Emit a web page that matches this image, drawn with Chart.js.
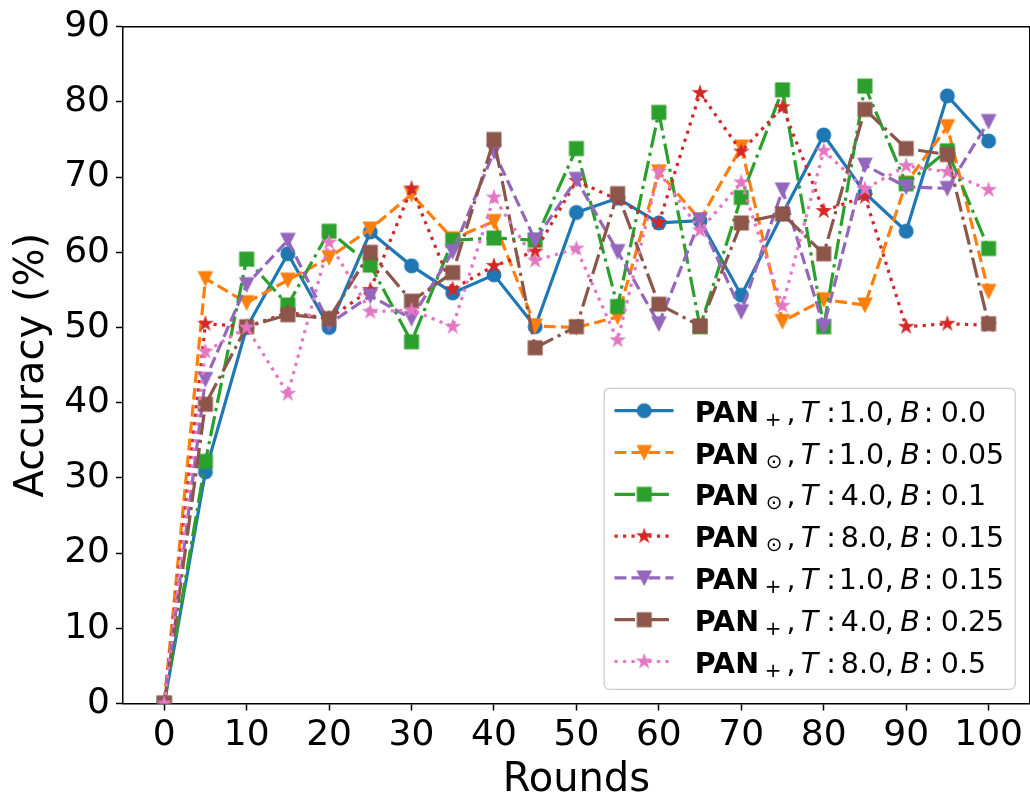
<!DOCTYPE html>
<html>
<head>
<meta charset="utf-8">
<script src="https://cdn.jsdelivr.net/npm/chart.js@4.4.1/dist/chart.umd.min.js"></script>
<style>
  html, body { margin: 0; padding: 0; overflow: hidden; background: #fff; }
</style>
</head>
<body>
<canvas id="accChart" width="1040" height="801"></canvas>
<script>
const rounds = [0, 5, 10, 15, 20, 25, 30, 35, 40, 45, 50, 55, 60, 65, 70, 75, 80, 85, 90, 95, 100];

const accPlusT1B0 = [0, 30.8, 50.0, 59.8, 50.0, 62.7, 58.2, 54.6, 57.0, 50.1, 65.3,
    67.2, 63.9, 64.2, 54.3, 65.1, 75.6, 67.9, 62.8, 80.8, 74.8];
const accDotT1B005 = [0, 56.5, 53.3, 56.3, 59.3, 63.1, 67.7, 61.8, 64.1, 50.2, 50.0,
    51.4, 70.7, 64.3, 74.0, 50.8, 53.7, 53.0, 69.2, 76.7, 54.8];
const accDotT4B01 = [0, 32.2, 59.1, 53.0, 62.8, 58.3, 48.1, 61.6, 61.9, 61.6, 73.8,
    52.8, 78.6, 50.1, 67.3, 81.6, 50.1, 82.1, 69.1, 73.5, 60.5];
const accDotT8B015 = [0, 50.5, 50.1, 52.0, 51.2, 55.0, 68.5, 55.1, 58.2, 60.1, 69.5,
    67.0, 63.9, 81.2, 73.4, 79.3, 65.5, 67.4, 50.1, 50.5, 50.3];
const accPlusT1B015 = [0, 43.1, 55.7, 61.6, 50.5, 54.2, 51.2, 60.1, 73.4, 61.6, 69.7,
    60.1, 50.5, 64.3, 52.1, 68.3, 50.1, 71.6, 68.7, 68.5, 77.4];
const accPlusT4B025 = [0, 39.8, 50.1, 51.7, 51.2, 60.0, 53.5, 57.3, 75.0, 47.3, 50.1,
    67.8, 53.1, 50.2, 63.9, 65.1, 59.8, 79.0, 73.8, 73.0, 50.5];
const accPlusT8B05 = [0, 46.8, 50.0, 41.2, 61.3, 52.1, 52.3, 50.1, 67.3, 58.9, 60.5,
    48.3, 70.7, 62.9, 69.3, 52.9, 73.5, 68.4, 71.5, 70.7, 68.3];

const xTicks = [0, 10, 20, 30, 40, 50, 60, 70, 80, 90, 100];
const yTicks = [0, 10, 20, 30, 40, 50, 60, 70, 80, 90];

// legend label parts: PAN_{sub}, T: t, B: b
const methodSubs = ['+', '\u2299', '\u2299', '\u2299', '+', '+', '+'];
const tempVals = ['1.0', '1.0', '4.0', '8.0', '1.0', '4.0', '8.0'];
const betaVals = ['0.0', '0.05', '0.1', '0.15', '0.15', '0.25', '0.5'];

const seriesList = [accPlusT1B0, accDotT1B005, accDotT4B01, accDotT8B015,
    accPlusT1B015, accPlusT4B025, accPlusT8B05];
const seriesColors = ['#1f77b4', '#ff7f0e', '#2ca02c', '#d62728', '#9467bd', '#8c564b', '#e377c2'];
const seriesMarkers = ['circle', 'triDown', 'square', 'star', 'triDown', 'square', 'star'];
const seriesLines = ['solid', 'dashed', 'dashdot', 'dotted', 'dashed', 'dashdot', 'dotted'];

const LINE_W = 3.2;
const MARKER = 13.8;
const FONT = '"DejaVu Sans"';

function dashFor(style, w) {
    if (style === 'dashed') return [3.7 * w, 1.6 * w];
    if (style === 'dashdot') return [6.4 * w, 1.6 * w, 1 * w, 1.6 * w];
    if (style === 'dotted') return [1 * w, 1.65 * w];
    return [];
}

// small offscreen canvases used as point images
function makeMarker(shape, color, size) {
    const c = document.createElement('canvas');
    const dim = 20;
    c.width = dim; c.height = dim;
    const g = c.getContext('2d');
    const m = dim / 2, h = size / 2;
    g.beginPath();
    if (shape === 'circle') {
        g.arc(m, m, h, 0, Math.PI * 2);
    } else if (shape === 'square') {
        g.rect(m - h, m - h, size, size);
    } else if (shape === 'triDown') {
        g.moveTo(m, m + h);
        g.lineTo(m - h, m - h);
        g.lineTo(m + h, m - h);
        g.closePath();
    } else if (shape === 'star') {
        for (let i = 0; i < 10; i++) {
            const r = i % 2 ? h * 0.381966 : h;
            const a = -Math.PI / 2 + i * Math.PI / 5;
            const px = m + r * Math.cos(a), py = m + r * Math.sin(a);
            if (i) g.lineTo(px, py); else g.moveTo(px, py);
        }
        g.closePath();
    }
    g.fillStyle = color;
    g.fill();
    g.lineWidth = 1.2;
    g.strokeStyle = color;
    g.stroke();
    return c;
}

function labelText(i) {
    return 'PAN' + methodSubs[i] + ', T: ' + tempVals[i] + ', B: ' + betaVals[i];
}

const datasets = seriesList.map((vals, i) => ({
    label: labelText(i),
    data: rounds.map((r, k) => ({ x: r, y: vals[k] })),
    borderColor: seriesColors[i],
    backgroundColor: seriesColors[i],
    borderWidth: LINE_W,
    borderDash: dashFor(seriesLines[i], LINE_W),
    pointStyle: makeMarker(seriesMarkers[i], seriesColors[i], MARKER),
    pointRadius: 7,
    pointHoverRadius: 7,
    fill: false,
    clip: 0,
    order: seriesList.length - i
}));

// top and right spines
const frameBorder = {
    id: 'frameBorder',
    afterDatasetsDraw(chart) {
        const { ctx, chartArea: a } = chart;
        ctx.save();
        ctx.strokeStyle = '#000';
        ctx.lineWidth = 1.5;
        ctx.beginPath();
        ctx.moveTo(a.left, a.top);
        ctx.lineTo(a.right, a.top);
        ctx.lineTo(a.right, a.bottom);
        ctx.stroke();
        ctx.restore();
    }
};

function drawLabel(ctx, x, y, i) {
    const main = '28.5px ' + FONT;
    const pieces = [
        { t: 'PAN', f: 'bold ' + main, dx: 0, dy: 0 },
        { t: methodSubs[i], f: '20px ' + FONT, dx: 70, dy: 4 },
        { t: ',', f: main, dx: 91.7, dy: 0 },
        { t: 'T', f: 'italic ' + main, dx: 105, dy: 0 },
        { t: ':', f: main, dx: 132.4, dy: 0 },
        { t: tempVals[i], f: main, dx: 145, dy: 0 },
        { t: ',', f: main, dx: 190, dy: 0 },
        { t: 'B', f: 'italic ' + main, dx: 203.4, dy: 0 },
        { t: ':', f: main, dx: 230, dy: 0 },
        { t: betaVals[i], f: main, dx: 245, dy: 0 }
    ];
    ctx.fillStyle = '#000';
    ctx.textAlign = 'left';
    ctx.textBaseline = 'alphabetic';
    pieces.forEach(p => {
        ctx.font = p.f;
        const m = ctx.measureText(p.t);
        ctx.fillText(p.t, x + p.dx + m.actualBoundingBoxLeft, y + p.dy);
    });
}

const legendBox = {
    id: 'legendBox',
    afterDraw(chart) {
        const { ctx, chartArea } = chart;
        const w = 411, h = 301;
        const x0 = chartArea.right - 14.6 - w;
        const y0 = chartArea.bottom - 14.2 - h;
        ctx.save();
        ctx.beginPath();
        ctx.roundRect(x0, y0, w, h, 5);
        ctx.fillStyle = 'rgba(255,255,255,0.8)';
        ctx.fill();
        ctx.lineWidth = 1.3;
        ctx.strokeStyle = '#cccccc';
        ctx.stroke();
        chart.data.datasets.forEach((ds, i) => {
            const cy = y0 + 22.4 + i * 41.8;
            ctx.beginPath();
            ctx.setLineDash(ds.borderDash);
            ctx.lineDashOffset = 0;
            ctx.strokeStyle = ds.borderColor;
            ctx.lineWidth = ds.borderWidth;
            ctx.moveTo(x0 + 10.3, cy);
            ctx.lineTo(x0 + 69.3, cy);
            ctx.stroke();
            ctx.setLineDash([]);
            const mk = ds.pointStyle;
            ctx.drawImage(mk, x0 + 40 - mk.width / 2, cy - mk.height / 2);
            drawLabel(ctx, x0 + 92.6, cy + 11, i);
        });
        ctx.restore();
    }
};

const axisGrid = {
    display: true,
    drawOnChartArea: false,
    drawTicks: true,
    tickLength: 7,
    tickWidth: 1.5,
    tickColor: '#000',
    color: '#000'
};
const axisBorder = { display: true, color: '#000', width: 1.5 };
const tickFont = { family: 'DejaVu Sans', size: 36, lineHeight: 1 };
const titleFont = { family: 'DejaVu Sans', size: 40, lineHeight: 1 };

new Chart(document.getElementById('accChart').getContext('2d'), {
    type: 'line',
    data: { datasets },
    options: {
        responsive: false,
        animation: false,
        layout: { padding: { top: 26.7, right: 9, bottom: 0, left: 0 } },
        plugins: {
            legend: { display: false },
            tooltip: { enabled: false }
        },
        scales: {
            x: {
                type: 'linear',
                min: -5,
                max: 105,
                afterBuildTicks: s => { s.ticks = xTicks.map(v => ({ value: v })); },
                afterFit: s => { s.height = 97.5; },
                grid: axisGrid,
                border: axisBorder,
                ticks: { color: '#000', font: tickFont, padding: 7, maxRotation: 0, autoSkip: false },
                title: { display: true, text: 'Rounds', color: '#000', font: titleFont, padding: { top: 0, bottom: 0 } }
            },
            y: {
                type: 'linear',
                min: 0,
                max: 90,
                afterBuildTicks: s => { s.ticks = yTicks.map(v => ({ value: v })); },
                afterFit: s => { s.width = 123; },
                grid: axisGrid,
                border: axisBorder,
                ticks: { color: '#000', font: tickFont, padding: 6, autoSkip: false },
                title: { display: true, text: 'Accuracy (%)', color: '#000', font: titleFont, padding: { top: 13, bottom: 0 } }
            }
        }
    },
    plugins: [frameBorder, legendBox]
});
</script>
</body>
</html>
